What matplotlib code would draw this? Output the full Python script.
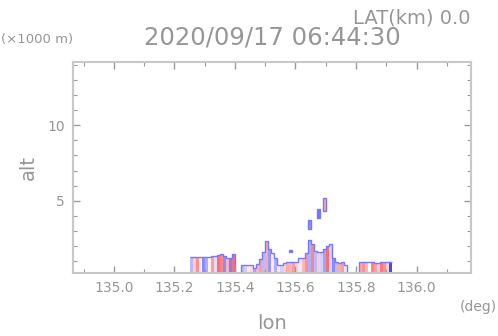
import numpy as np
import matplotlib
matplotlib.use("Agg")
from matplotlib import pyplot as plt
from matplotlib.colors import LinearSegmentedColormap, Normalize
from matplotlib.ticker import MultipleLocator, FormatStrFormatter

# columns of the cross-section, 0.01 deg wide, starting at 135.25
lon_start = 135.25
col_width = 0.01
col_top = [1.25, 1.25, 1.25, 1.25, 1.25, 1.25, 1.25, 1.3, 1.3, 1.4,
           1.45, 1.3, 1.2, 1.2, 1.45, 0.0, 0.0, 0.72, 0.72, 0.72,
           0.72, 0.55, 0.8, 1.1, 1.6, 2.3, 1.8, 1.5, 1.2, 0.72,
           0.72, 0.85, 0.92, 0.92, 0.92, 0.92, 1.2, 1.2, 1.5, 2.4,
           2.1, 1.65, 1.6, 1.6, 1.8, 1.97, 2.15, 1.2, 0.94, 0.86,
           0.94, 0.72, 0.0, 0.0, 0.0, 0.0, 0.9, 0.9, 0.9, 0.94,
           0.94, 0.86, 0.86, 0.94, 0.94, 0.9, 0.9]
col_val = [-0.3, 0.2, 0.45, 0.1, -0.5, -0.35, 0.05, 0.4, -0.15, 0.6,
           0.5, -0.5, 0.3, -0.55, 0.6, 0.0, 0.0, -0.3, -0.2, 0.1,
           0.15, -0.4, 0.3, 0.4, -0.3, 0.35, -0.45, 0.1, -0.35, 0.1,
           -0.2, 0.2, 0.35, 0.3, 0.4, 0.2, -0.1, 0.3, 0.45, -0.35,
           0.5, -0.3, 0.2, -0.2, -0.4, 0.6, -0.2, -0.5, -0.3, 0.35,
           0.4, -0.1, 0.0, 0.0, 0.0, 0.0, 0.35, 0.45, 0.3, 0.0,
           0.5, 0.4, -0.2, 0.55, 0.45, 0.2, -0.8]

# detached echoes above the main layer
float_col = [33, 39, 42, 44]
float_bottom = [1.6, 3.1, 3.85, 4.3]
float_top = [1.75, 3.7, 4.45, 5.2]
float_val = [-0.7, -0.5, -0.6, 0.35]

xticks = [135.0, 135.2, 135.4, 135.6, 135.8, 136.0]
yticks = [5, 10]

gray = "#969696"
edge_blue = "#7878ff"
cmap = LinearSegmentedColormap.from_list("rwb", ["#4646ff", "#ffffff", "#ff3c3c"])
norm = Normalize(-0.8, 0.8)

fig = plt.figure(figsize=(4.98, 3.36), dpi=100)
ax = fig.add_axes([73 / 498, 1 - 273 / 336, 398 / 498, 211 / 336])

lefts = lon_start + col_width * np.arange(len(col_top))
ax.bar(lefts, col_top, width=col_width, align="edge",
       color=cmap(norm(np.array(col_val))), linewidth=0, antialiased=False)
edges = np.append(lefts, lefts[-1] + col_width)
ax.stairs(col_top, edges, baseline=None, color=edge_blue, lw=1.0)

fl = lon_start + col_width * np.array(float_col)
ax.bar(fl, np.array(float_top) - np.array(float_bottom), bottom=float_bottom,
       width=col_width, align="edge", color=cmap(norm(np.array(float_val))),
       edgecolor=edge_blue, linewidth=1.0)

ax.set_xlim(134.865, 136.18)
ax.set_ylim(0.2, 14.2)
ax.set_xticks(xticks)
ax.xaxis.set_major_formatter(FormatStrFormatter("%.1f"))
ax.xaxis.set_minor_locator(MultipleLocator(0.1))
ax.set_yticks(yticks)
ax.yaxis.set_minor_locator(MultipleLocator(1))

for s in ax.spines.values():
    s.set_color("#c8c8c8")
    s.set_linewidth(1.5)
ax.tick_params(which="both", direction="in", top=True, right=True,
               color="#9a9a9a", labelcolor=gray, labelsize=10, pad=6)
ax.tick_params(which="major", length=5, width=1)
ax.tick_params(which="minor", length=3, width=0.8)

fig.text(470 / 498, 1 - 17.5 / 336, "LAT(km) 0.0", ha="right", va="center",
         fontsize=14, color=gray)
fig.text(272 / 498, 1 - 37.5 / 336, "2020/09/17 06:44:30", ha="center",
         va="center", fontsize=17.5, color=gray)
fig.text(0.002, 1 - 40 / 336, "(\u00d71000 m)", ha="left", va="center",
         fontsize=9.5, color=gray)
fig.text(0.998, 1 - 307 / 336, "(deg)", ha="right", va="center",
         fontsize=10, color=gray)
fig.text(272 / 498, 0.02, "lon", ha="center", va="baseline",
         fontsize=14, color=gray)
fig.text(28 / 498, 1 - 167 / 336, "alt", ha="center", va="center",
         rotation=90, fontsize=14, color=gray)

fig.savefig("out.png", dpi=100)
